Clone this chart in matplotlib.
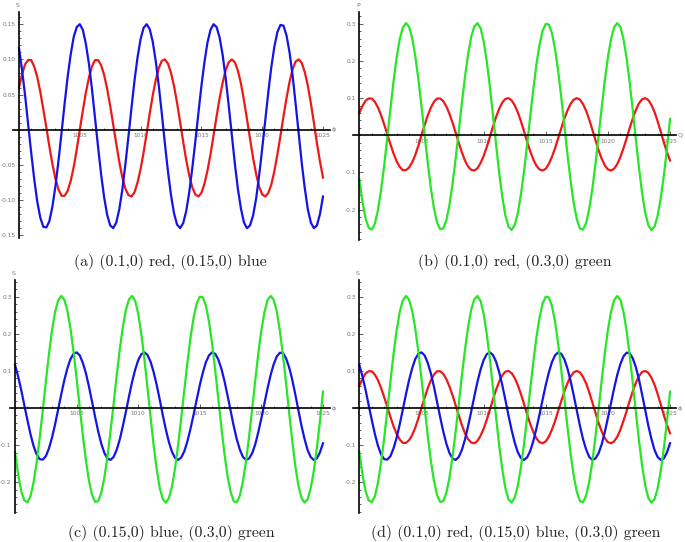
import numpy as np
import matplotlib
matplotlib.use("Agg")
import matplotlib.pyplot as plt
from matplotlib.ticker import MultipleLocator, FixedLocator

# ---- data (in thousandths) ----
phi = np.arange(1000, 1025.001, 0.25)

red_milli = [60,79,93,99,99,90,75,54,29,3,
             -24,-49,-70,-85,-94,-94,-87,-73,-53,-28,
             0,27,53,74,90,99,99,92,78,58,
             34,7,-20,-46,-68,-84,-93,-95,-89,-75,
             -56,-32,-5,23,49,71,88,98,100,94,
             81,62,38,11,-17,-43,-65,-82,-92,-95,
             -90,-77,-58,-35,-8,19,45,67,85,96,
             100,96,84,66,42,15,-13,-40,-63,-81,
             -92,-95,-90,-78,-59,-35,-9,19,45,68,
             86,97,100,95,82,63,38,10,-19,-45,
             -68]
blue_milli = [116,85,49,8,-32,-70,-102,-125,-138,-139,
              -130,-109,-80,-44,-4,37,75,107,132,146,
              150,142,122,94,58,17,-24,-63,-96,-121,
              -136,-140,-132,-113,-85,-49,-10,31,70,103,
              129,145,150,143,125,97,62,22,-20,-59,
              -93,-119,-135,-140,-133,-116,-89,-55,-17,23,
              62,96,124,142,150,146,131,106,73,34,
              -7,-48,-84,-112,-132,-140,-136,-122,-98,-65,
              -27,13,53,89,118,139,149,148,134,110,
              77,37,-5,-47,-83,-113,-132,-140,-136,-120,
              -95]
green_milli = [-119,-179,-224,-249,-254,-238,-201,-147,-81,-6,
               71,145,209,259,290,302,292,262,214,151,
               79,2,-73,-141,-196,-234,-253,-251,-229,-188,
               -131,-63,11,87,157,218,265,293,302,289,
               254,200,132,55,-24,-100,-165,-216,-246,-255,
               -242,-210,-160,-97,-25,51,124,191,244,282,
               300,298,275,232,173,102,25,-52,-123,-183,
               -226,-251,-254,-236,-198,-144,-77,-3,74,147,
               210,259,291,302,292,260,209,143,68,-11,
               -87,-155,-208,-242,-255,-246,-217,-170,-109,-37,
               44]

red = np.array(red_milli) / 1000.0
blue = np.array(blue_milli) / 1000.0
green = np.array(green_milli) / 1000.0

x_major = [1005, 1010, 1015, 1020, 1025]
ticks_a = [-0.15, -0.10, -0.05, 0.05, 0.10, 0.15]
labels_a = ["-0.15", "-0.10", "-0.05", "0.05", "0.10", "0.15"]
ticks_b = [-0.2, -0.1, 0.1, 0.2, 0.3]
labels_b = ["-0.2", "-0.1", "0.1", "0.2", "0.3"]

captions = ["(a) (0.1,0) red, (0.15,0) blue",
            "(b) (0.1,0) red, (0.3,0) green",
            "(c) (0.15,0) blue, (0.3,0) green",
            "(d) (0.1,0) red, (0.15,0) blue, (0.3,0) green"]

RED = "#ee1818"
BLUE = "#1414e6"
GREEN = "#26e626"
LW = 1.6

W, H = 685, 542
fig = plt.figure(figsize=(W/100, H/100), dpi=100)

def make_ax(l, r, t, b, xlim, ylim, yticks, ylabels, yminor, ylab, xlab):
    ax = fig.add_axes([l/W, 1-b/H, (r-l)/W, (b-t)/H])
    ax.set_xlim(*xlim)
    ax.set_ylim(*ylim)
    for s in ["top", "right"]:
        ax.spines[s].set_visible(False)
    ax.spines["left"].set_position(("data", 1000))
    ax.spines["bottom"].set_position(("data", 0))
    for s in ["left", "bottom"]:
        ax.spines[s].set_linewidth(1.2)
        ax.spines[s].set_color("black")
        ax.spines[s].set_zorder(5)
    ax.xaxis.set_major_locator(FixedLocator(x_major))
    ax.xaxis.set_minor_locator(MultipleLocator(1))
    ax.yaxis.set_major_locator(FixedLocator(yticks))
    ax.set_yticklabels(ylabels)
    ax.yaxis.set_minor_locator(MultipleLocator(yminor))
    ax.tick_params(which="both", direction="in", colors="#444444",
                   labelcolor="#777777", labelsize=4.2, width=0.6)
    ax.tick_params(which="major", length=3.0)
    ax.tick_params(which="minor", length=1.6)
    ax.tick_params(axis="x", pad=2.5)
    ax.tick_params(axis="y", pad=2.5)
    ax.annotate(ylab, xy=(1000, ylim[1]), xytext=(-1, 3), textcoords="offset points",
                ha="center", va="bottom", fontsize=4.5, color="#777777",
                annotation_clip=False)
    ax.annotate(xlab, xy=(xlim[1], 0), xytext=(1.5, 0), textcoords="offset points",
                ha="left", va="center", fontsize=4.5, color="#777777",
                annotation_clip=False)
    ax.patch.set_alpha(0)
    return ax

axa = make_ax(13, 330, 12, 238, (999.507, 1025.576), (-0.154, 0.1674),
              ticks_a, labels_a, 0.01, "S", "ϕ")
axb = make_ax(353, 676, 12, 240, (999.49, 1025.48), (-0.282, 0.332),
              ticks_b, labels_b, 0.02, "P", "Q")
axc = make_ax(10, 330, 280, 513, (999.59, 1025.57), (-0.283, 0.345),
              ticks_b, labels_b, 0.02, "S", "ϕ")
axd = make_ax(353, 676, 280, 513, (999.49, 1025.48), (-0.283, 0.345),
              ticks_b, labels_b, 0.02, "S", "ϕ")

axa.plot(phi, red, color=RED, lw=LW, zorder=3)
axa.plot(phi, blue, color=BLUE, lw=LW, zorder=3)

axb.plot(phi, red, color=RED, lw=LW, zorder=3)
axb.plot(phi, green, color=GREEN, lw=LW, zorder=3)

axc.plot(phi, blue, color=BLUE, lw=LW, zorder=3)
axc.plot(phi, green, color=GREEN, lw=LW, zorder=3)

axd.plot(phi, red, color=RED, lw=LW, zorder=3)
axd.plot(phi, blue, color=BLUE, lw=LW, zorder=3)
axd.plot(phi, green, color=GREEN, lw=LW, zorder=3)

cap_pos = [(170, 262), (515, 262), (171, 533), (516, 533)]
for txt, (cx, cy) in zip(captions, cap_pos):
    fig.text(cx/W, 1-cy/H, txt, ha="center", va="center",
             fontsize=11.3, family="cmr10", color="#222222")

fig.savefig("out.png", dpi=100)
